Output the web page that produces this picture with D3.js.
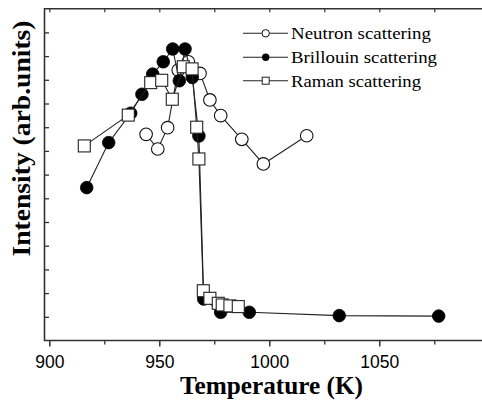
<!DOCTYPE html>
<html><head><meta charset="utf-8">
<script src="https://cdn.jsdelivr.net/npm/d3@7"></script>
<style>body{margin:0;background:#fff}svg{display:block}</style>
</head><body>
<script>
// Data (Temperature K, Intensity arb. units)
const neutronT = [944.0, 949.3, 953.8, 958.6, 963.2, 968.5, 973.0, 977.9, 987.5, 997.3, 1017.0];
const neutronI = [8.70, 8.08, 8.98, 11.41, 11.76, 11.27, 10.15, 9.49, 8.49, 7.45, 8.64];
const brillT = [917.0, 927.0, 937.0, 942.1, 947.0, 951.8, 956.1, 959.1, 961.7, 965.0, 968.0, 970.2, 977.9, 990.9, 1031.8, 1077.0];
const brillI = [6.45, 8.35, 9.59, 10.39, 11.24, 11.76, 12.30, 10.96, 12.30, 11.10, 8.63, 1.75, 1.19, 1.19, 1.05, 1.03];
const ramanT = [915.9, 935.9, 946.1, 951.1, 955.9, 960.9, 964.9, 967.0, 968.0, 970.0, 973.0, 976.8, 978.6, 982.1, 985.9];
const ramanI = [8.21, 9.51, 10.88, 10.98, 10.18, 11.55, 11.46, 9.00, 7.66, 2.10, 1.78, 1.57, 1.50, 1.46, 1.43];
const xTicks = [900, 950, 1000, 1050];
const xMinor = [925, 975, 1025, 1075];
const yTicks = [1,2,3,4,5,6,7,8,9,10,11,12,13];
const seriesNames = ["Neutron scattering", "Brillouin scattering", "Raman scattering"];

(function () {
const W = 482, H = 401;
const svg = d3.select("body").append("svg").attr("width", W).attr("height", H);
const serif = "'Liberation Serif', 'Times New Roman', serif";

const x = d3.scaleLinear().domain([900, 1050]).range([49.3, 379.3]);
const x0 = x.invert(44.5), x1 = x.invert(482);
x.domain([x0, x1]).range([44.5, 482]);
const y = d3.scaleLinear().domain([0, 14]).range([340.5, 8.7]);

const axisColor = "#333";
svg.append("path").attr("d", `M${x(x1)},${y(14)}H${x(x0)}V${y(0)}H${x(x1)}`)
  .attr("fill", "none").attr("stroke", axisColor).attr("stroke-width", 1.6);

const bottomAx = svg.append("g").attr("transform", `translate(0,${y(0)})`)
  .call(d3.axisBottom(x).tickValues(xTicks).tickSize(6).tickFormat(d3.format("d")));
bottomAx.select(".domain").remove();
bottomAx.selectAll(".tick line").attr("stroke", axisColor).attr("stroke-width", 1.5);
bottomAx.selectAll(".tick text").attr("font-family", "'Liberation Sans', Arial, sans-serif")
  .attr("font-size", 17.5).attr("fill", "#000").attr("dy", null).attr("y", 27);
const bottomMinor = svg.append("g").attr("transform", `translate(0,${y(0)})`)
  .call(d3.axisBottom(x).tickValues(xMinor).tickSize(4).tickFormat(""));
bottomMinor.select(".domain").remove();
bottomMinor.selectAll(".tick line").attr("stroke", axisColor).attr("stroke-width", 1.3);

const topAx = svg.append("g").attr("transform", `translate(0,${y(14)})`)
  .call(d3.axisTop(x).tickValues(xTicks.concat(xMinor)).tickSize(-3.5).tickFormat(""));
topAx.select(".domain").remove();
topAx.selectAll(".tick line").attr("stroke", axisColor).attr("stroke-width", 1.2);

const leftAx = svg.append("g").attr("transform", `translate(${x(x0)},0)`)
  .call(d3.axisLeft(y).tickValues(yTicks).tickSize(-4.5).tickFormat(""));
leftAx.select(".domain").remove();
leftAx.selectAll(".tick line").attr("stroke", axisColor).attr("stroke-width", 1.3);

svg.append("text").attr("x", 271.5).attr("y", 394).attr("text-anchor", "middle")
  .attr("font-family", serif).attr("font-weight", "bold")
  .attr("font-size", 25.5).attr("textLength", 183).attr("lengthAdjust", "spacingAndGlyphs")
  .text("Temperature (K)");
svg.append("text").attr("transform", "translate(30,138.5) rotate(-90)").attr("text-anchor", "middle")
  .attr("font-family", serif).attr("font-weight", "bold")
  .attr("font-size", 25.5).attr("textLength", 236).attr("lengthAdjust", "spacingAndGlyphs")
  .text("Intensity (arb.units)");

const line = d3.line().x(d => x(d[0])).y(d => y(d[1]));
const zip = (a, b) => a.map((v, i) => [v, b[i]]);
const neutron = zip(neutronT, neutronI), brill = zip(brillT, brillI), raman = zip(ramanT, ramanI);

function drawLine(data) {
  svg.append("path").datum(data).attr("d", line).attr("fill", "none")
    .attr("stroke", "#222").attr("stroke-width", 1.1);
}
const R = 6.3, S = 12;
drawLine(neutron);
svg.append("g").selectAll("circle").data(neutron).join("circle")
  .attr("cx", d => x(d[0])).attr("cy", d => y(d[1])).attr("r", R)
  .attr("fill", "#fff").attr("stroke", "#111").attr("stroke-width", 1.1);
drawLine(brill);
svg.append("g").selectAll("circle").data(brill).join("circle")
  .attr("cx", d => x(d[0])).attr("cy", d => y(d[1])).attr("r", R)
  .attr("fill", "#000").attr("stroke", "#000").attr("stroke-width", 0.8);
drawLine(raman);
svg.append("g").selectAll("rect").data(raman).join("rect")
  .attr("x", d => x(d[0]) - S/2).attr("y", d => y(d[1]) - S/2).attr("width", S).attr("height", S)
  .attr("fill", "#fff").attr("stroke", "#222").attr("stroke-width", 1.1);

const leg = svg.append("g");
const rows = [33.3, 57.3, 80.7];
const widths = [140, 146, 130];
seriesNames.forEach((name, i) => {
  const cy = rows[i];
  leg.append("line").attr("x1", 243).attr("x2", 288).attr("y1", cy).attr("y2", cy)
    .attr("stroke", "#222").attr("stroke-width", 1.1);
  if (i === 0) leg.append("circle").attr("cx", 265.7).attr("cy", cy).attr("r", 3.7)
    .attr("fill", "#fff").attr("stroke", "#111").attr("stroke-width", 1);
  else if (i === 1) leg.append("circle").attr("cx", 265.7).attr("cy", cy).attr("r", 3.7)
    .attr("fill", "#000");
  else leg.append("rect").attr("x", 265.7 - 3.5).attr("y", cy - 3.5).attr("width", 7).attr("height", 7)
    .attr("fill", "#fff").attr("stroke", "#222").attr("stroke-width", 1);
  leg.append("text").attr("x", 291).attr("y", cy + 6)
    .attr("font-family", serif).attr("font-size", 17)
    .attr("textLength", widths[i]).attr("lengthAdjust", "spacingAndGlyphs")
    .attr("fill", "#000").text(name);
});
})();
</script>
</body></html>
